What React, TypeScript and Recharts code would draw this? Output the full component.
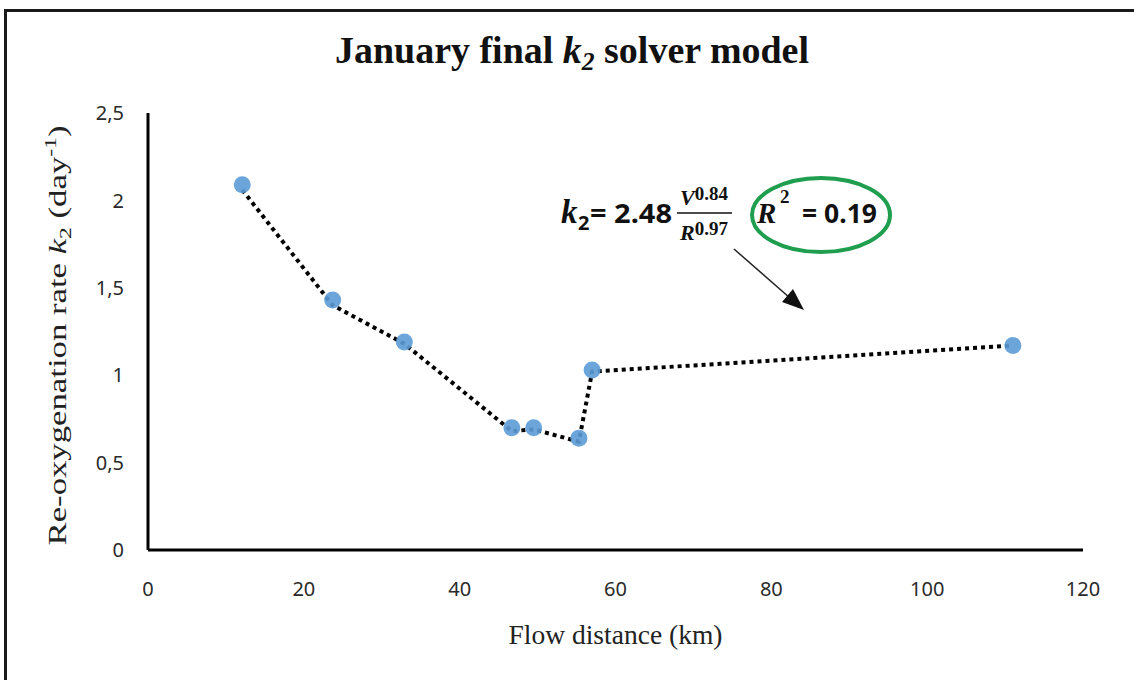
import React from 'react';
import { ComposedChart, Line, Scatter, XAxis, YAxis, Label } from 'recharts';

// flow distance (km) and k2 (day^-1)
const distance = [12.1, 23.7, 32.9, 46.7, 49.5, 55.3, 57.0, 111.0];
const observed = [2.09, 1.43, 1.19, 0.70, 0.70, 0.64, 1.03, 1.17];
const modelled = [2.06, 1.40, 1.18, 0.68, 0.69, 0.62, 1.02, 1.17];
const xTicks = [0, 20, 40, 60, 80, 100, 120];
const yTicks = [0, 0.5, 1, 1.5, 2, 2.5];

const data = distance.map((x, i) => ({ x, obs: observed[i], model: modelled[i] }));

const SERIF = '"Liberation Serif", "Times New Roman", serif';
const SANS = '"Noto Sans", "Open Sans", sans-serif';

const XLabel = (props: any) => {
    const { x, y, width } = props.viewBox;
    return (
        <text x={x + width / 2} y={y + 94} textAnchor="middle" fontFamily={SERIF} fontSize={27} fill="#222"
            textLength={214} lengthAdjust="spacingAndGlyphs">
            Flow distance (km)
        </text>
    );
};

const YLabel = (props: any) => {
    const { y, height } = props.viewBox;
    const cx = 66;
    const cy = y + height / 2 + 4;
    return (
        <text x={cx} y={cy} transform={`rotate(-90 ${cx} ${cy})`} textAnchor="middle" fontFamily={SERIF} fontSize={25} fill="#222"
            textLength={420} lengthAdjust="spacingAndGlyphs">
            Re-oxygenation rate <tspan fontStyle="italic">k</tspan>
            <tspan fontSize={17} dy={5}>2</tspan>
            <tspan dy={-5}> (day</tspan>
            <tspan fontSize={17} dy={-10}>-1</tspan>
            <tspan dy={10}>)</tspan>
        </text>
    );
};

const Dot = (props: any) => {
    const { cx, cy } = props;
    return <circle cx={cx} cy={cy} r={8.5} fill="#5b9bd5" fillOpacity={0.9} />;
};

export default function App() {
    return (
        <div style={{ position: 'absolute', left: 0, top: 0, width: 1134, height: 680, background: '#fff' }}>
            <div style={{ position: 'absolute', left: 4, top: 9, width: 1140, height: 690, border: '3px solid #1a1a1a' }} />
            <ComposedChart width={1134} height={680} data={data} margin={{ top: 113, right: 51, bottom: 100, left: 88 }}>
                <XAxis
                    dataKey="x"
                    type="number"
                    domain={[0, 120]}
                    ticks={xTicks}
                    height={30}
                    tickLine={false}
                    tickSize={0}
                    tickMargin={32}
                    axisLine={{ stroke: '#000', strokeWidth: 3 }}
                    tick={{ fill: '#2a2a2a', fontSize: 20, fontFamily: SANS }}
                >
                    <Label content={XLabel} />
                </XAxis>
                <YAxis
                    type="number"
                    domain={[0, 2.5]}
                    ticks={yTicks}
                    width={60}
                    tickLine={false}
                    tickSize={0}
                    tickMargin={24}
                    axisLine={{ stroke: '#000', strokeWidth: 3 }}
                    tickFormatter={(v: number) => String(v).replace('.', ',')}
                    tick={{ fill: '#2a2a2a', fontSize: 20, fontFamily: SANS }}
                >
                    <Label content={YLabel} />
                </YAxis>
                <Scatter dataKey="obs" shape={Dot} isAnimationActive={false} />
                <Line
                    dataKey="model"
                    type="linear"
                    stroke="#000"
                    strokeWidth={4}
                    strokeDasharray="4 4"
                    dot={false}
                    activeDot={false}
                    isAnimationActive={false}
                />
            </ComposedChart>
            <svg width={1134} height={680} style={{ position: 'absolute', left: 0, top: 0, pointerEvents: 'none' }}>
                <text x={572} y={63} textAnchor="middle" fontFamily={SERIF} fontWeight="bold" fontSize={37} fill="#111"
                    textLength={474} lengthAdjust="spacingAndGlyphs">
                    January final <tspan fontStyle="italic">k</tspan>
                    <tspan fontStyle="italic" fontSize={25} dy={7}>2</tspan>
                    <tspan dy={-7}> solver model</tspan>
                </text>
                <text x={561} y={223} fontFamily={SERIF} fontWeight="bold" fontStyle="italic" fontSize={33} fill="#111">
                    k
                </text>
                <text x={578} y={230} fontFamily={SANS} fontWeight="bold" fontSize={20} fill="#111">2</text>
                <text x={590} y={223} fontFamily={SANS} fontWeight="bold" fontSize={27} fill="#111"
                    textLength={82} lengthAdjust="spacingAndGlyphs">= 2.48</text>
                <text x={704} y={205} textAnchor="middle" fontFamily={SERIF} fontWeight="bold" fontSize={19} fill="#111">
                    <tspan fontStyle="italic" fontSize={22}>V</tspan>
                    <tspan dy={-5}>0.84</tspan>
                </text>
                <line x1={677} y1={213} x2={732} y2={213} stroke="#111" strokeWidth={1.5} />
                <text x={704} y={240} textAnchor="middle" fontFamily={SERIF} fontWeight="bold" fontSize={19} fill="#111">
                    <tspan fontStyle="italic" fontSize={22}>R</tspan>
                    <tspan dy={-5}>0.97</tspan>
                </text>
                <text x={757} y={223} fontFamily={SERIF} fontWeight="bold" fontStyle="italic" fontSize={29} fill="#111">R</text>
                <text x={780} y={203} fontFamily={SERIF} fontWeight="bold" fontSize={19} fill="#111">2</text>
                <text x={802} y={223} fontFamily={SANS} fontWeight="bold" fontSize={27} fill="#111"
                    textLength={75} lengthAdjust="spacingAndGlyphs">= 0.19</text>
                <ellipse cx={821} cy={215} rx={69} ry={37} fill="none" stroke="#1e9e4e" strokeWidth={4} />
                <line x1={734} y1={249} x2={790} y2={298} stroke="#222" strokeWidth={1.5} />
                <polygon points="804,310 782,302 793,289" fill="#111" />
            </svg>
        </div>
    );
}
